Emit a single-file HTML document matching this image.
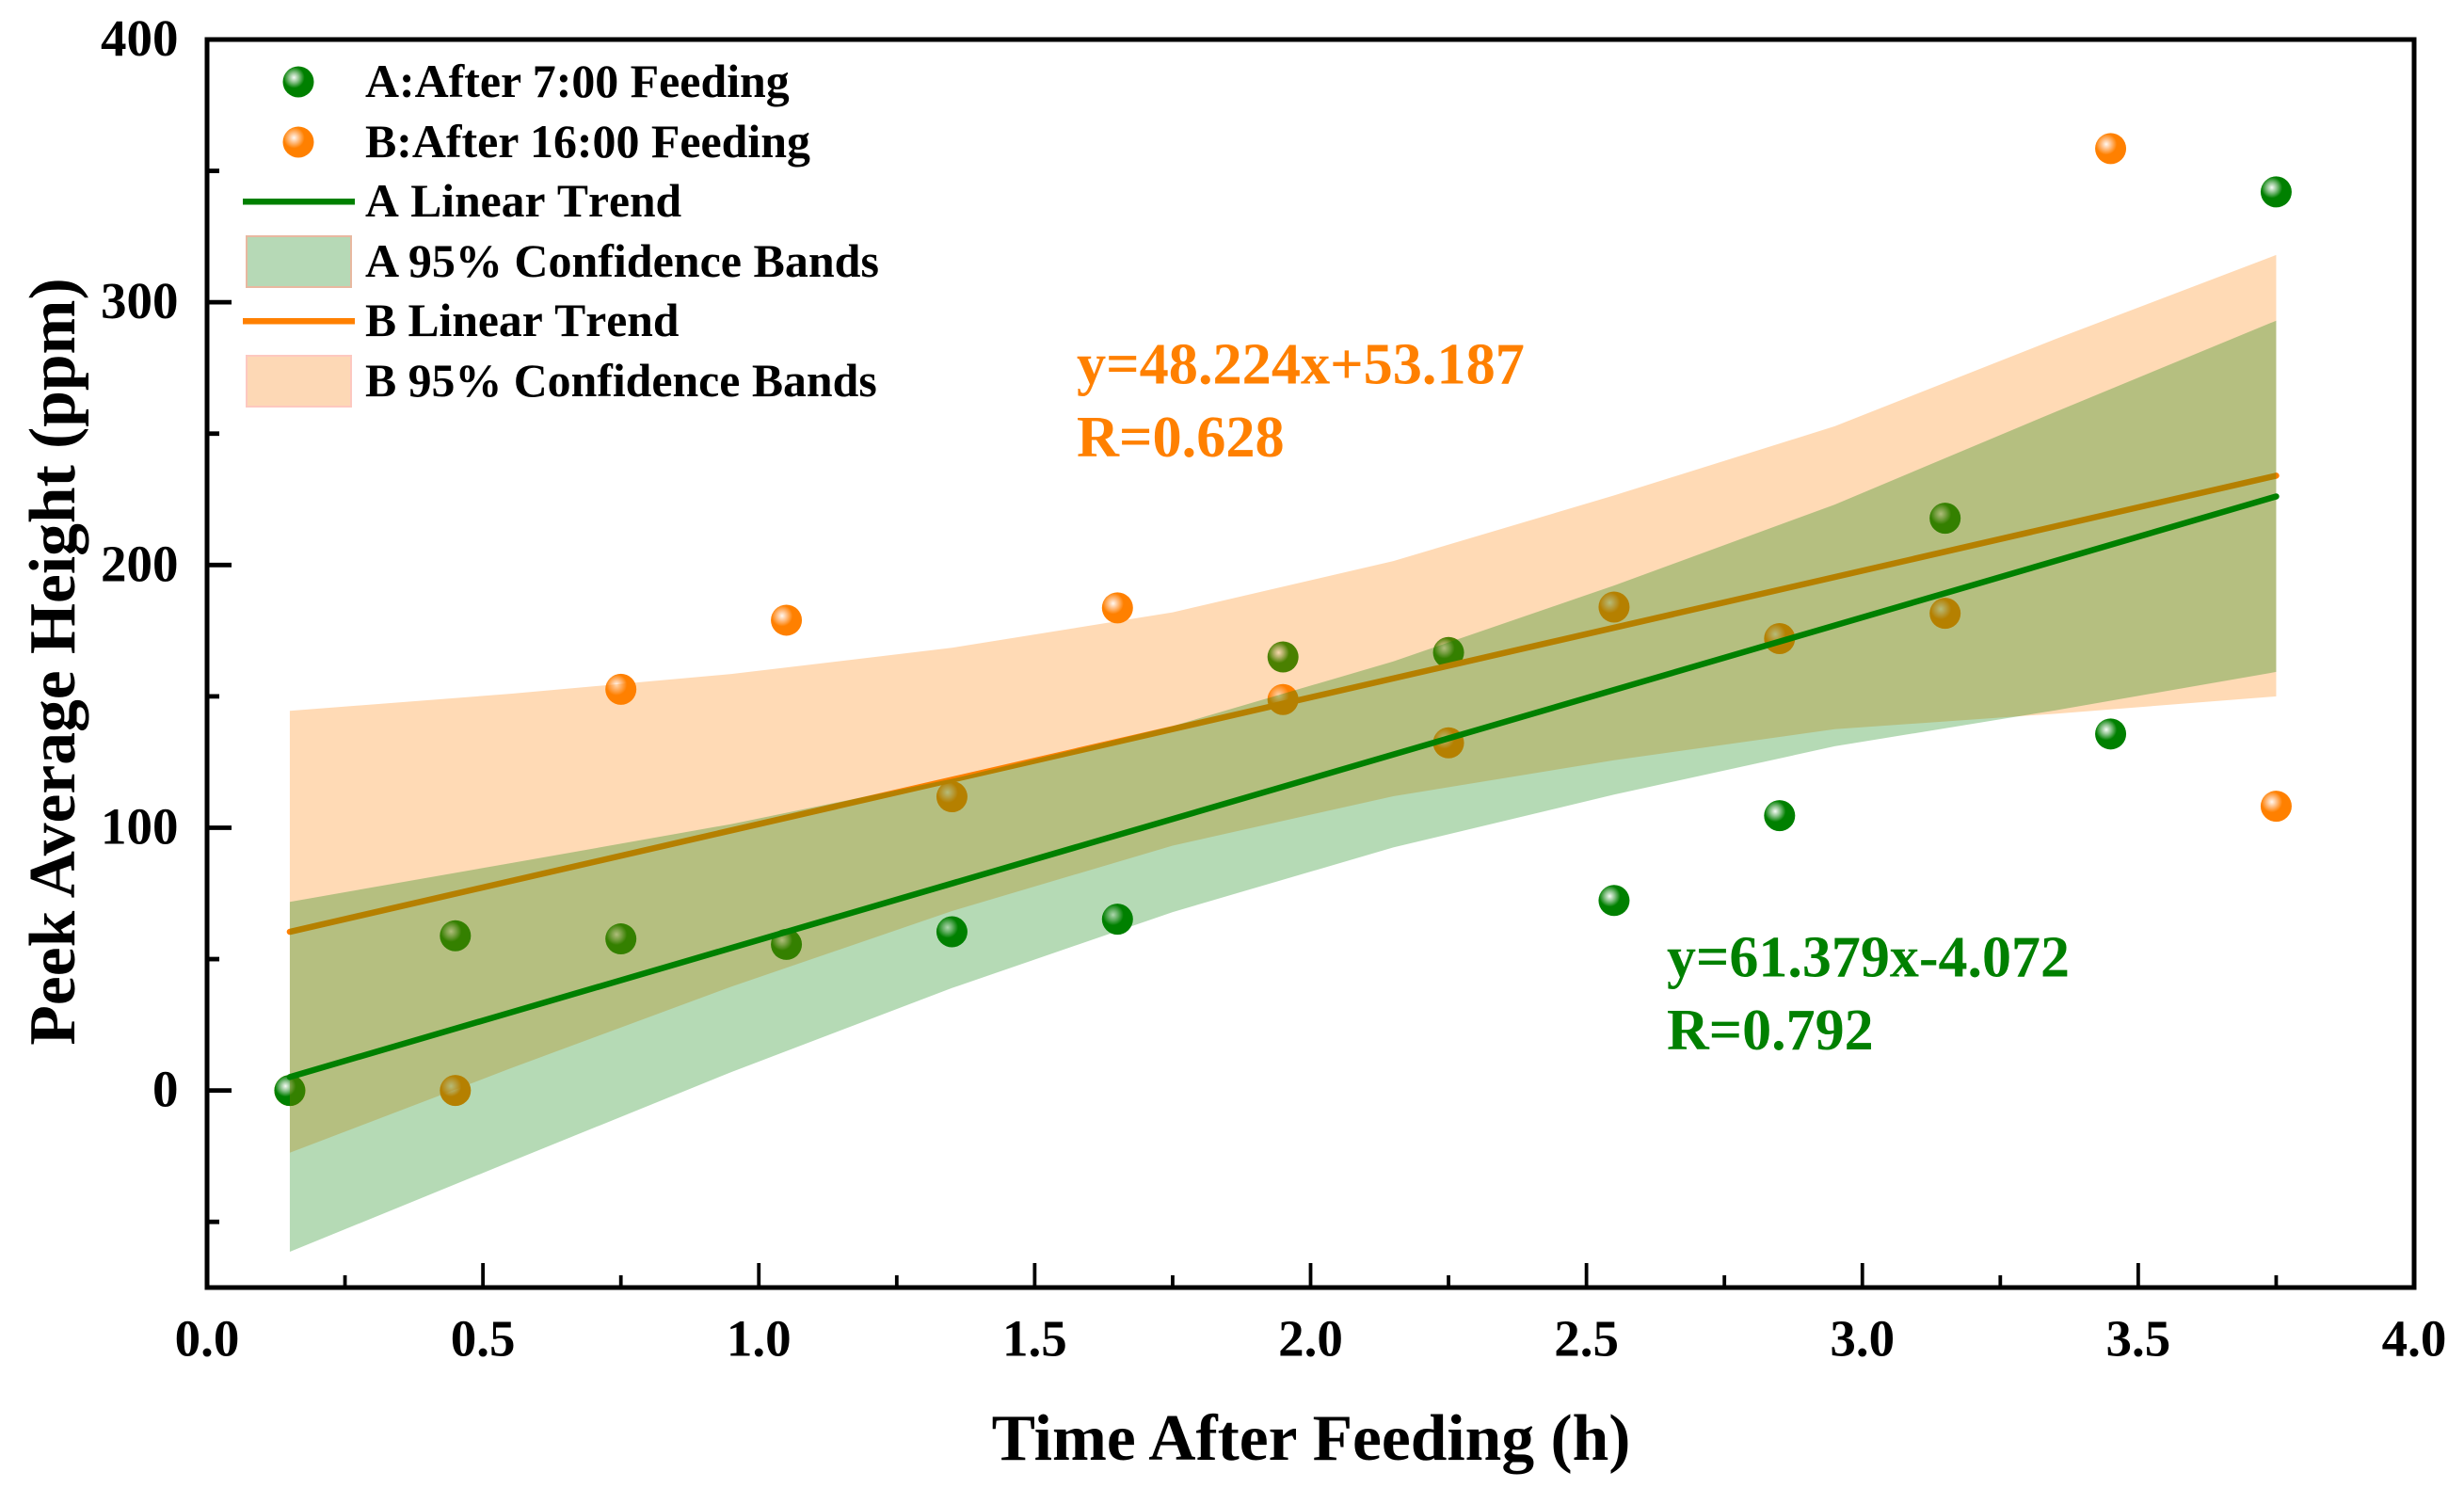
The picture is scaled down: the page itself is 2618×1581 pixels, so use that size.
<!DOCTYPE html>
<html lang="en">
<head>
<meta charset="utf-8">
<title>Peek Average Height vs Time After Feeding</title>
<style>
html,body{margin:0;padding:0;background:#fff;}
svg{display:block;}
text{font-family:"Liberation Serif",serif;font-weight:bold;}
</style>
</head>
<body>
<svg id="chart" xmlns="http://www.w3.org/2000/svg" width="2618" height="1581" viewBox="0 0 2618 1581">
  <defs>
    <radialGradient id="sphere-green" cx="0.36" cy="0.36" r="0.34">
      <stop offset="0" stop-color="#f6fbf6"/>
      <stop offset="0.45" stop-color="#8fc48f"/>
      <stop offset="1" stop-color="#008000"/>
    </radialGradient>
    <radialGradient id="sphere-orange" cx="0.36" cy="0.36" r="0.34">
      <stop offset="0" stop-color="#fff8f2"/>
      <stop offset="0.45" stop-color="#ffc088"/>
      <stop offset="1" stop-color="#ff8000"/>
    </radialGradient>
  </defs>
  <rect x="0" y="0" width="2618" height="1581" fill="#ffffff"/>
  <g id="marks-b"></g>
  <g id="marks-a"></g>
  <g id="trend-b"></g>
  <g id="bands"></g>
  <g id="trend-a"></g>
  <g id="axes"></g>

  <text x="1393" y="1551" font-size="69.5" text-anchor="middle">Time After Feeding (h)</text>
  <text transform="translate(79,703) rotate(-90)" font-size="69.5" text-anchor="middle">Peek Average Height (ppm)</text>

  <text x="1144" y="407.5" font-size="62.3" fill="#ff8000">y=48.224x+53.187</text>
  <text x="1144" y="485" font-size="62.3" fill="#ff8000">R=0.628</text>
  <text x="1771" y="1037.5" font-size="62" fill="#008000">y=61.379x-4.072</text>
  <text x="1771" y="1115" font-size="62" fill="#008000">R=0.792</text>

  <g>
    <circle cx="317" cy="87" r="16.5" fill="url(#sphere-green)"/>
    <text x="388" y="103" font-size="49.9">A:After 7:00 Feeding</text>
    <circle cx="317" cy="151" r="16.5" fill="url(#sphere-orange)"/>
    <text x="388" y="167" font-size="49.9">B:After 16:00 Feeding</text>
    <rect x="258" y="211" width="119" height="6.5" fill="#008000"/>
    <text x="388" y="230" font-size="49.6" style="font-kerning:none">A Linear Trend</text>
    <rect x="262" y="251" width="111" height="54" fill="#b6d9b6" stroke="#e8b8a0" stroke-width="2"/>
    <text x="388" y="294" font-size="50">A 95% Confidence Bands</text>
    <rect x="258" y="338" width="119" height="6.5" fill="#ff8000"/>
    <text x="388" y="357" font-size="49.6" style="font-kerning:none">B Linear Trend</text>
    <rect x="262" y="378" width="111" height="54" fill="#fdd8b5" stroke="#fdc8c0" stroke-width="2"/>
    <text x="388" y="421" font-size="49.8">B 95% Confidence Bands</text>
  </g>
</svg>
<script>
const pointTimes = [0.15, 0.45, 0.75, 1.05, 1.35, 1.65, 1.95, 2.25, 2.55, 2.85, 3.15, 3.45, 3.75];
const seriesAValues = [0, 58.9, 57.7, 55.6, 60.4, 65.2, 165, 166.7, 72.3, 104.6, 217.8, 135.7, 342];
const seriesBValues = [0, 0, 152.7, 179, 111.8, 183.7, 148.8, 132.3, 184, 172, 181.6, 358.5, 108.2];

const bandTimes = [0.15, 0.55, 0.95, 1.35, 1.75, 2.15, 2.55, 2.95, 3.35, 3.75];
const bandAUpper = [71.8, 86.5, 101.4, 118.6, 138.7, 163.3, 192.2, 223, 258.3, 293];
const bandALower = [-61.4, -27.1, 7, 39, 67.9, 92.5, 112.6, 131, 144.7, 159.3];
const bandBUpper = [144.5, 151, 158.5, 168.5, 182, 201.5, 226.5, 252.8, 286, 318];
const bandBLower = [-23.7, 8.4, 39.5, 68.3, 93.2, 112, 125.7, 137.5, 143.4, 150];

const trendTimes = [0.15, 3.75];
const trendAValues = [5.13, 226.1];
const trendBValues = [60.4, 234];

const xMajorTicks = ["0.0", "0.5", "1.0", "1.5", "2.0", "2.5", "3.0", "3.5", "4.0"];
const xMinorTicks = [0.25, 0.75, 1.25, 1.75, 2.25, 2.75, 3.25, 3.75];
const yMajorTicks = ["0", "100", "200", "300", "400"];
const yMinorTicks = [-50, 50, 150, 250, 350];

const NS = 'http://www.w3.org/2000/svg';
const plotLeft = 220, plotRight = 2565, plotTop = 42, plotBottom = 1368;
const xMin = 0, xMax = 4, yMin = -75, yMax = 400;
function xScale(v) { return plotLeft + (v - xMin) / (xMax - xMin) * (plotRight - plotLeft); }
function yScale(v) { return plotBottom - (v - yMin) / (yMax - yMin) * (plotBottom - plotTop); }
function make(tag, parent, attrs) {
  const el = document.createElementNS(NS, tag);
  for (const k in attrs) el.setAttribute(k, attrs[k]);
  parent.appendChild(el);
  return el;
}

const marksB = document.getElementById('marks-b');
const marksA = document.getElementById('marks-a');
pointTimes.forEach(function (t, i) {
  const b = make('circle', marksB, { cx: xScale(t), cy: yScale(seriesBValues[i]), r: 16.5, fill: 'url(#sphere-orange)' });
  
  
});
pointTimes.forEach(function (t, i) {
  const a = make('circle', marksA, { cx: xScale(t), cy: yScale(seriesAValues[i]), r: 16.5, fill: 'url(#sphere-green)' });
  
  
});

function linePath(times, values) {
  return times.map(function (t, i) { return (i ? 'L' : 'M') + xScale(t) + ' ' + yScale(values[i]); }).join(' ');
}
const trendB = make('path', document.getElementById('trend-b'), { d: linePath(trendTimes, trendBValues), fill: 'none', stroke: '#ff8000', 'stroke-width': 6.5, 'stroke-linecap': 'round' });


const trendA = make('path', document.getElementById('trend-a'), { d: linePath(trendTimes, trendAValues), fill: 'none', stroke: '#008000', 'stroke-width': 6.5, 'stroke-linecap': 'round' });



function bandPath(times, upper, lower) {
  const top = times.map(function (t, i) { return xScale(t) + ' ' + yScale(upper[i]); });
  const bottom = times.map(function (t, i) { return xScale(t) + ' ' + yScale(lower[i]); }).reverse();
  return 'M' + top.concat(bottom).join(' L') + ' Z';
}
const bandsGroup = document.getElementById('bands');
const bandB = make('path', bandsGroup, { d: bandPath(bandTimes, bandBUpper, bandBLower), fill: '#ff8000', 'fill-opacity': 0.29 });


const bandA = make('path', bandsGroup, { d: bandPath(bandTimes, bandAUpper, bandALower), fill: '#008000', 'fill-opacity': 0.29 });



const axes = document.getElementById('axes');
const frame = make('rect', axes, { x: plotLeft, y: plotTop, width: plotRight - plotLeft, height: plotBottom - plotTop, fill: 'none', stroke: '#000', 'stroke-width': 5 });



xMajorTicks.forEach(function (label) {
  const x = xScale(parseFloat(label));
  if (parseFloat(label) > xMin && parseFloat(label) < xMax) {
    const tick = make('line', axes, { x1: x, x2: x, y1: plotBottom, y2: plotBottom - 26, stroke: '#000', 'stroke-width': 3.8 });
    
    
  }
  const text = make('text', axes, { x: x, y: 1440.5, 'font-size': 55, 'text-anchor': 'middle' });
  text.textContent = label;
  
  
});
xMinorTicks.forEach(function (v) {
  const x = xScale(v);
  const tick = make('line', axes, { x1: x, x2: x, y1: plotBottom, y2: plotBottom - 13, stroke: '#000', 'stroke-width': 3.8 });
  
  
});
yMajorTicks.forEach(function (label) {
  const y = yScale(parseFloat(label));
  const tick = make('line', axes, { x1: plotLeft, x2: plotLeft + 26, y1: y, y2: y, stroke: '#000', 'stroke-width': 4.8 });
  
  
  const text = make('text', axes, { x: 189.5, y: y + 17, 'font-size': 55, 'text-anchor': 'end' });
  text.textContent = label;
  
  
});
yMinorTicks.forEach(function (v) {
  const y = yScale(v);
  const tick = make('line', axes, { x1: plotLeft, x2: plotLeft + 13, y1: y, y2: y, stroke: '#000', 'stroke-width': 4.8 });
  
  
});
</script>
</body>
</html>
